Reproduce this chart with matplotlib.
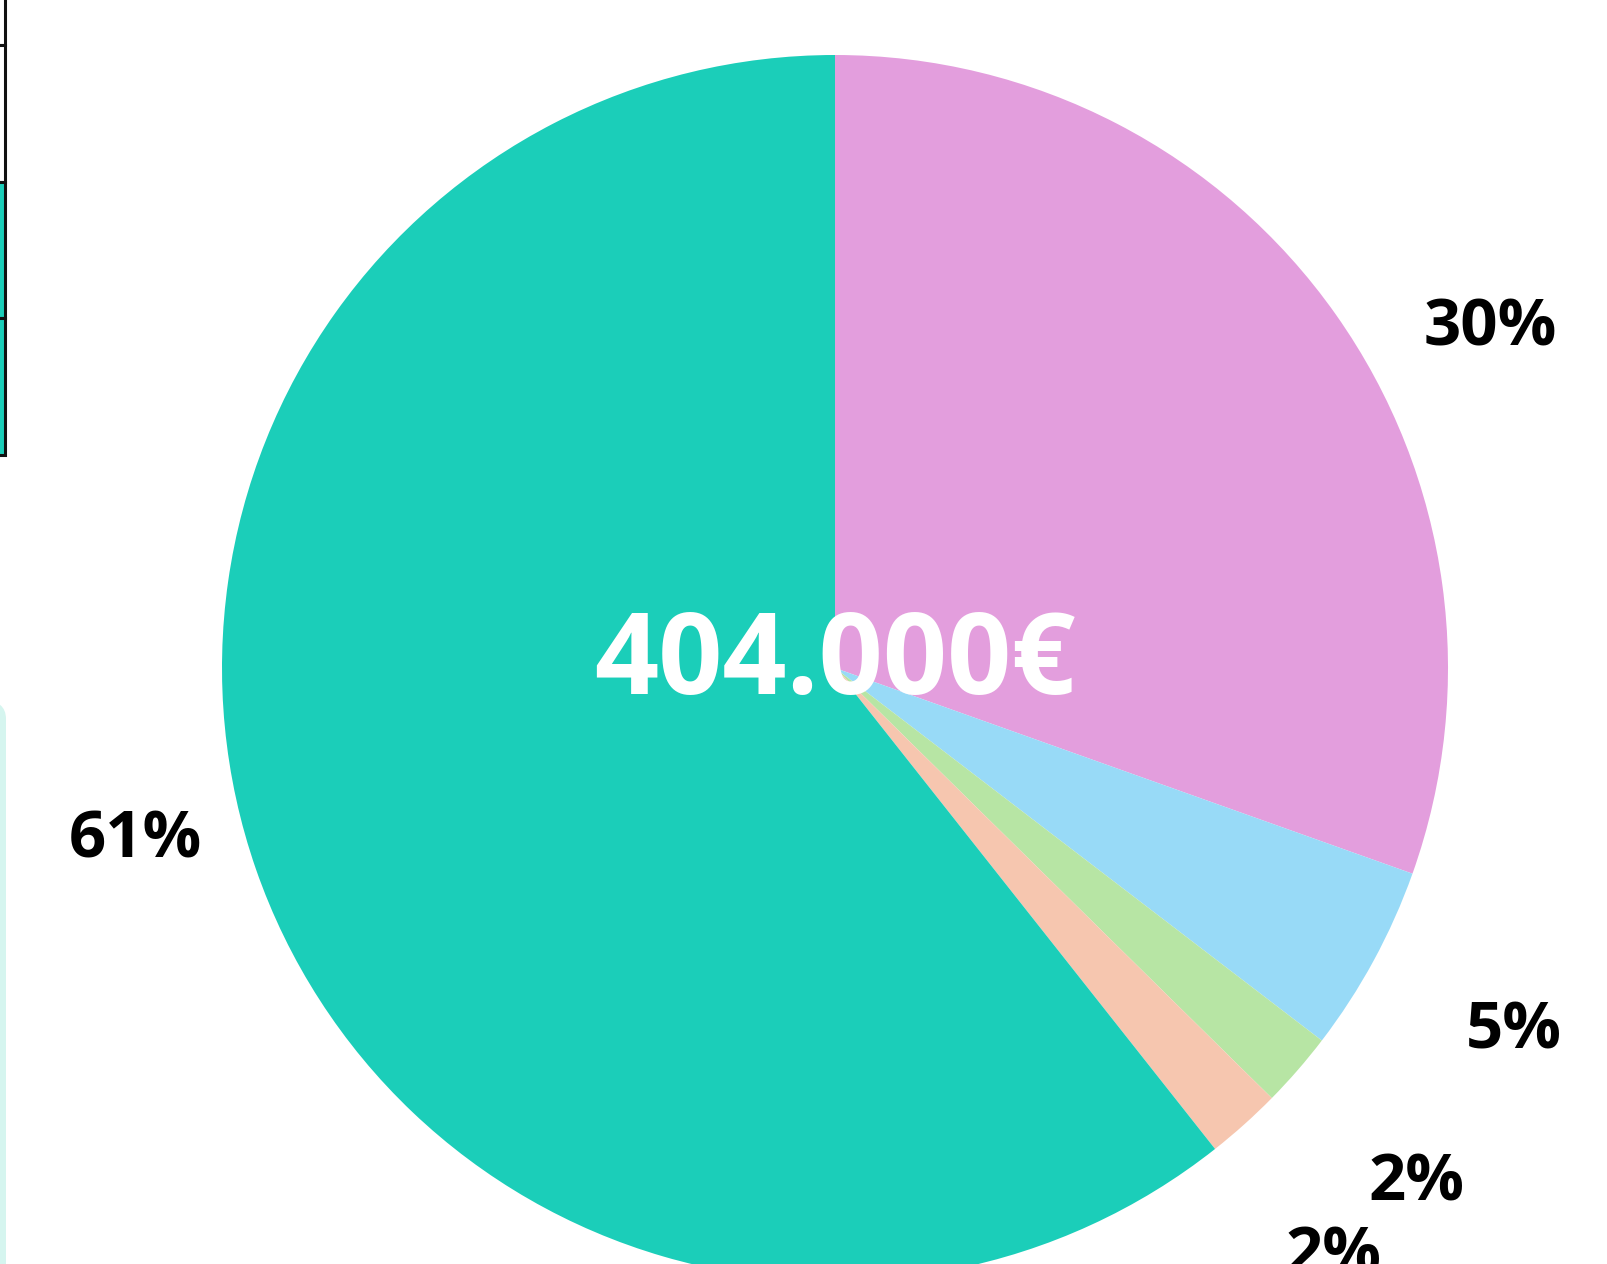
import numpy as np
import matplotlib
matplotlib.use("Agg")
import matplotlib.pyplot as plt
from matplotlib.patches import Rectangle, FancyBboxPatch

# Data
categories = ["A", "B", "C", "D", "E"]
values = [123000, 20000, 8000, 8000, 245000]
colors = ["#e39edd", "#98daf7", "#b7e5a4", "#f6c6af", "#1bceb9"]
total_label = "404.000€"

# Layout: label placement (angle in degrees, distance in radii)
label_angles = [27.9, -27.7, -41.2, -49.4, 193.3]
label_dists = [1.209, 1.25, 1.26, 1.249, 1.173]
label_dy = -0.012

W, H = 1608, 1264
fig = plt.figure(figsize=(W / 100, H / 100), dpi=100)
fig.patch.set_facecolor("white")

cx, cy, R = 835, 668, 613
ax = fig.add_axes([0, 0, 1, 1])
ax.set_aspect("equal")
ax.axis("off")

wedges, texts, autotexts = ax.pie(
    values, colors=colors, startangle=90, counterclock=False,
    radius=1.0, autopct=lambda p: f"{p:.0f}%", pctdistance=1.22,
    wedgeprops=dict(linewidth=0),
    textprops=dict(fontsize=47, fontweight="bold", family="Open Sans", color="black"),
)
for t, a, d in zip(autotexts, label_angles, label_dists):
    t.set_position((d * np.cos(np.radians(a)), d * np.sin(np.radians(a)) + label_dy))
    t.set_clip_on(False)

ax.set_xlim(-cx / R, (W - cx) / R)
ax.set_ylim((cy - H) / R, cy / R)

ax.text(0, -0.042, total_label, ha="center", va="baseline", fontsize=81,
        fontweight="bold", family="Open Sans", color="white")

# Left edge fragments (cut-off legend boxes)
def px_rect(x0, y0, w, h, **kw):
    return Rectangle((x0 / W, 1 - (y0 + h) / H), w / W, h / H, transform=fig.transFigure, **kw)

for (y0, y1, fc) in [(-5, 45, "white"), (45, 182, "white"), (182, 318, "#1bceb9"), (318, 455, "#1bceb9")]:
    fig.add_artist(px_rect(-20, y0, 24.5, y1 - y0, facecolor=fc, edgecolor="#111111", linewidth=2.2))

fig.add_artist(FancyBboxPatch((-30 / W, -20 / H), 36 / W, (1264 - 700 + 20) / H,
                              boxstyle="round,pad=0,rounding_size=0.015",
                              transform=fig.transFigure, facecolor="#d5f5ef", edgecolor="none"))

fig.savefig("out.png", dpi=100)
